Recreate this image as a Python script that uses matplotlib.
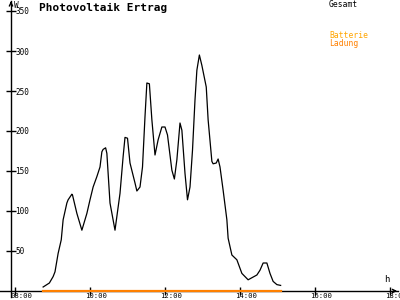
import matplotlib
matplotlib.use('Agg')
import matplotlib.pyplot as plt

# 計測時刻 (HH:MM) と出力 [W]
times = ["08:45", "08:55", "09:01", "09:04", "09:09", "09:14", "09:17", "09:23",
         "09:25", "09:31", "09:32", "09:39", "09:47", "09:55", "10:00", "10:05",
         "10:11", "10:16", "10:19", "10:21", "10:25", "10:27", "10:32", "10:40",
         "10:48", "10:53", "10:56", "11:00", "11:04", "11:12", "11:15", "11:20",
         "11:24", "11:28", "11:31", "11:35", "11:39", "11:44", "11:49", "11:55",
         "12:00", "12:04", "12:11", "12:15", "12:19", "12:24", "12:27", "12:32",
         "12:36", "12:40", "12:44", "12:48", "12:51", "12:55", "12:59", "13:06",
         "13:09", "13:15", "13:17", "13:22", "13:25", "13:28", "13:33", "13:39",
         "13:41", "13:47", "13:55", "14:03", "14:13", "14:27", "14:32", "14:37",
         "14:43", "14:48", "14:53", "14:59", "15:05"]
gesamt = [5, 10, 18, 24, 47, 64, 89, 110,
          114, 121, 120, 97, 76, 97, 114, 130,
          143, 155, 174, 177, 179, 172, 110, 76,
          122, 168, 192, 191, 160, 135, 125, 130,
          155, 218, 260, 259, 214, 170, 189, 205,
          205, 195, 151, 140, 164, 210, 201, 147,
          114, 130, 176, 239, 276, 295, 282, 255,
          214, 162, 159, 160, 165, 155, 126, 89,
          66, 45, 39, 22, 14, 20, 26, 35,
          35, 22, 12, 8, 7]

# バッテリー充電 (ずっと 0)
ladung_times = ["08:45", "15:05"]
ladung = [0, 0]

y_ticks = [50, 100, 150, 200, 250, 300, 350]
x_tick_labels = ["08:00", "10:00", "12:00", "14:00", "16:00", "18:00"]


def to_hours(t):
    """HH:MM を時間(小数)に変換"""
    h, m = t.split(':')
    return int(h) + int(m) / 60.0


# ピクセル座標との対応 (400x300)
PX_PER_HOUR = 37.5
PX_PER_WATT = 0.8
X0 = 8 - 15 / PX_PER_HOUR          # 左端 px=0
Y_ZERO_PX = 291                    # 0W の位置 (上から)

font = 'DejaVu Sans Mono'
orange = '#ff8000'

fig = plt.figure(figsize=(4, 3), dpi=100)
ax = fig.add_axes([0, 0, 1, 1])
ax.set_xlim(X0, X0 + 400 / PX_PER_HOUR)
ax.set_ylim((Y_ZERO_PX - 300) / PX_PER_WATT, Y_ZERO_PX / PX_PER_WATT)

x_axis_pos = X0 + 11 / PX_PER_HOUR
x_right = X0 + 398 / PX_PER_HOUR
y_top = Y_ZERO_PX / PX_PER_WATT

# 軸の設定
for s in ['top', 'right']:
    ax.spines[s].set_visible(False)
ax.spines['left'].set_position(('data', x_axis_pos))
ax.spines['bottom'].set_position(('data', 0))
ax.spines['left'].set_bounds(-6 / PX_PER_WATT, y_top - 1)
ax.spines['bottom'].set_bounds(X0, x_right)
ax.spines['left'].set_linewidth(1)
ax.spines['bottom'].set_linewidth(1)

ax.set_yticks(y_ticks)
ax.set_xticks([to_hours(t) for t in x_tick_labels])
ax.tick_params(axis='y', direction='inout', length=7, width=1, labelleft=False)
ax.tick_params(axis='x', direction='inout', length=6, width=1, labelbottom=False)

# 目盛りラベル
for v in y_ticks:
    ax.annotate(str(v), xy=(x_axis_pos, v), xytext=(4, -1), textcoords='offset pixels',
                ha='left', va='center', fontsize=5.5, family=font)
for t in x_tick_labels:
    ax.annotate(t, xy=(to_hours(t), 0), xytext=(-5, -2), textcoords='offset pixels',
                ha='left', va='top', fontsize=5.2, family=font, annotation_clip=False)

# 矢印
ax.annotate('', xy=(x_axis_pos, y_top + 2), xytext=(x_axis_pos, y_top - 8),
            arrowprops=dict(arrowstyle='->', lw=1, mutation_scale=6), annotation_clip=False)
ax.annotate('', xy=(X0 + 400 / PX_PER_HOUR, 0), xytext=(x_right - 0.2, 0),
            arrowprops=dict(arrowstyle='->', lw=1, mutation_scale=6), annotation_clip=False)
ax.annotate('W', xy=(x_axis_pos, y_top), xytext=(3, -1), textcoords='offset pixels',
            ha='left', va='top', fontsize=5.5, family=font)
ax.annotate('h', xy=(x_right, 0), xytext=(-14, 7), textcoords='offset pixels',
            ha='left', va='bottom', fontsize=6.5, family=font)

# データのプロット
ax.plot([to_hours(t) for t in times], gesamt, color='black', lw=0.9, clip_on=False)
ax.plot([to_hours(t) for t in ladung_times], ladung, color=orange, lw=1.6,
        clip_on=False, zorder=4)

# タイトルと凡例
fig.text(39 / 400, 1 - 7.5 / 300, 'Photovoltaik Ertrag', ha='left', va='center',
         fontsize=8, fontweight='bold', family=font)
fig.text(329 / 400, 1 - 4.5 / 300, 'Gesamt', ha='left', va='center', fontsize=5.8, family=font)
fig.text(329 / 400, 1 - 36 / 300, 'Batterie', ha='left', va='center', fontsize=5.8,
         family=font, color='#ffa500')
fig.text(329 / 400, 1 - 43.5 / 300, 'Ladung', ha='left', va='center', fontsize=5.8,
         family=font, color=orange)

fig.savefig('out.png', dpi=100)
plt.close(fig)
